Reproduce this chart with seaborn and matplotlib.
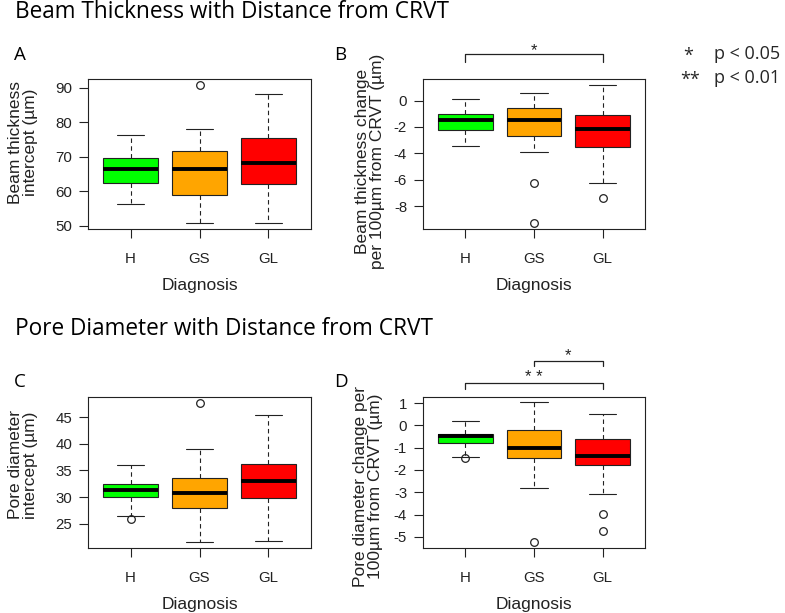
import matplotlib
matplotlib.use("Agg")
import matplotlib.pyplot as plt
import matplotlib.transforms as mtransforms
import pandas as pd
import seaborn as sns

sns.set_theme(style="ticks")
plt.rcParams["font.family"] = ["Liberation Sans", "DejaVu Sans"]
plt.rcParams["axes.unicode_minus"] = False

groups = ["H", "GS", "GL"]
colors = ["#00ff00", "#ffa500", "#ff0000"]

# per-subject values (A: beam intercept, B: beam change,
# C: pore intercept, D: pore change)
beam_int_H = [56.3, 59.0, 61.0, 62.4, 64.0, 65.5, 66.4, 67.2, 68.5, 69.6, 71.5, 73.8, 76.2]
beam_int_GS = [50.8, 54.0, 57.0, 58.9, 61.5, 64.0, 66.6, 68.0, 70.0, 71.6, 74.0, 78.0, 91.0]
beam_int_GL = [50.7, 55.0, 59.0, 62.2, 64.0, 66.5, 68.2, 70.5, 73.0, 75.4, 79.0, 84.0, 88.2]

beam_chg_H = [-3.42, -2.9, -2.5, -2.26, -1.95, -1.7, -1.5, -1.35, -1.15, -1.0, -0.7, -0.3, 0.08]
beam_chg_GS = [-9.31, -6.21, -3.87, -2.72, -2.3, -1.9, -1.46, -1.1, -0.8, -0.6, -0.2, 0.2, 0.58]
beam_chg_GL = [-7.37, -6.24, -4.5, -3.55, -3.0, -2.6, -2.19, -1.8, -1.4, -1.08, -0.4, 0.4, 1.21]

pore_int_H = [25.9, 26.5, 28.5, 30.0, 30.5, 31.0, 31.3, 31.7, 32.1, 32.5, 33.5, 35.0, 36.1]
pore_int_GS = [21.55, 24.0, 26.0, 27.9, 29.0, 30.0, 30.8, 31.8, 32.8, 33.65, 35.5, 39.1, 47.7]
pore_int_GL = [21.9, 25.0, 28.0, 29.8, 31.0, 32.0, 33.1, 34.0, 35.2, 36.2, 39.0, 42.0, 45.3]

pore_chg_H = [-1.47, -1.4, -1.0, -0.8, -0.7, -0.6, -0.5, -0.45, -0.42, -0.38, -0.2, 0.0, 0.19]
pore_chg_GS = [-5.24, -2.8, -2.0, -1.46, -1.3, -1.15, -1.03, -0.8, -0.5, -0.23, 0.2, 0.6, 1.04]
pore_chg_GL = [-4.75, -3.96, -3.1, -1.79, -1.6, -1.5, -1.37, -1.1, -0.85, -0.63, -0.2, 0.2, 0.5]


def long_df(h, gs, gl):
    rows = [(g, v) for g, vals in zip(groups, [h, gs, gl]) for v in vals]
    return pd.DataFrame(rows, columns=["Diagnosis", "value"])


W, H = 785, 613
fig = plt.figure(figsize=(W / 100, H / 100), dpi=100)


def px_axes(x0, y0, x1, y1):
    return fig.add_axes([x0 / W, 1 - y1 / H, (x1 - x0) / W, (y1 - y0) / H])


def draw_box(ax, df, ylim, yticks, ylabel, lab_xy):
    sns.boxplot(data=df, x="Diagnosis", y="value", hue="Diagnosis", order=groups,
                hue_order=groups, palette=colors, legend=False, width=0.8,
                linecolor="#222222", linewidth=0.8, saturation=1,
                whiskerprops=dict(linestyle=(0, (4, 3)), color="#222222"),
                capprops=dict(color="#222222"),
                medianprops=dict(linewidth=2.8, color="black"),
                flierprops=dict(marker="o", markersize=5.5, markerfacecolor="none",
                                markeredgecolor="#222222", markeredgewidth=0.9),
                ax=ax)
    ax.set_xlim(-0.62, 2.62)
    ax.set_ylim(*ylim)
    ax.set_yticks(yticks)
    ax.set_ylabel(ylabel, fontsize=12.5, color="#222222", linespacing=1.0)
    ax.yaxis.set_label_coords(*lab_xy)
    ax.set_xlabel("Diagnosis", fontsize=12.5, color="#222222", labelpad=9)
    ax.tick_params(axis="both", length=6.5, width=0.8, color="#222222",
                   labelsize=10.8, labelcolor="#222222", pad=5)
    ax.tick_params(axis="x", pad=10)
    for s in ax.spines.values():
        s.set_visible(True)
        s.set_linewidth(0.8)
        s.set_color("#222222")


axA = px_axes(88, 79, 311, 229)
draw_box(axA, long_df(beam_int_H, beam_int_GS, beam_int_GL), (49.05, 92.6),
         [50, 60, 70, 80, 90], "Beam thickness\nintercept (µm)", (-0.224, 0.58))
axB = px_axes(423, 79, 645, 229)
draw_box(axB, long_df(beam_chg_H, beam_chg_GS, beam_chg_GL), (-9.73, 1.63),
         [0, -2, -4, -6, -8], "Beam thickness change\nper 100µm from CRVT (µm)",
         (-0.171, 0.45))
axC = px_axes(88, 397, 311, 548)
draw_box(axC, long_df(pore_int_H, pore_int_GS, pore_int_GL), (20.5, 48.75),
         [25, 30, 35, 40, 45], "Pore diameter\nintercept (µm)", (-0.224, 0.55))
axD = px_axes(423, 397, 645, 548)
draw_box(axD, long_df(pore_chg_H, pore_chg_GS, pore_chg_GL), (-5.5, 1.27),
         [1, 0, -1, -2, -3, -4, -5], "Pore diameter change per\n100µm from CRVT (µm)",
         (-0.18, 0.41))

head = ["Open Sans", "DejaVu Sans"]


def ftext(x, y, s, **kw):
    fig.text(x / W, 1 - y / H, s, **kw)


ftext(15, 18.5, "Beam Thickness with Distance from CRVT", fontsize=16.3, family=head,
      va="baseline", color="black")
ftext(15, 335, "Pore Diameter with Distance from CRVT", fontsize=16.3, family=head,
      va="baseline", color="black")
for lab, x, y in [("A", 14, 60), ("B", 334, 60), ("C", 14, 387), ("D", 334, 387)]:
    ftext(x, y, lab, fontsize=13.5, family=head, va="baseline", color="black")

ftext(683, 61, "*", fontsize=13, family=head, va="baseline")
ftext(714, 59, "p < 0.05", fontsize=13, family=head, va="baseline")
ftext(680, 85, "**", fontsize=13, family=head, va="baseline")
ftext(714, 83, "p < 0.01", fontsize=13, family=head, va="baseline")


def bracket(ax, x0, x1, y, tip, star, star_y):
    tr = mtransforms.blended_transform_factory(ax.transData, fig.transFigure)
    ax.plot([x0, x0, x1, x1], [1 - tip / H, 1 - y / H, 1 - y / H, 1 - tip / H],
            color="#222222", lw=0.9, transform=tr, clip_on=False)
    ax.text((x0 + x1) / 2, 1 - star_y / H, star, transform=tr, ha="center",
            va="baseline", fontsize=12, color="#222222")


bracket(axB, 0, 2, 54, 62, "*", 55)
bracket(axD, 1, 2, 361, 366, "*", 360)
bracket(axD, 0, 2, 383, 389, "* *", 382)

fig.savefig("out.png", dpi=100)
